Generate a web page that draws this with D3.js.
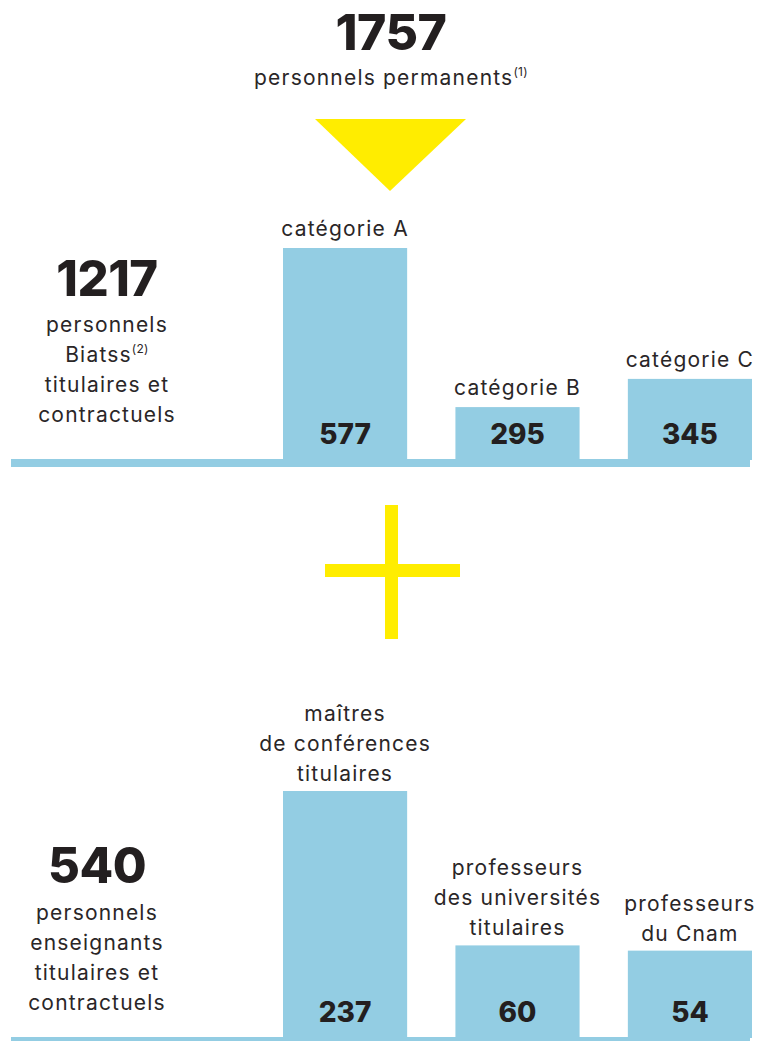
<!DOCTYPE html>
<html><head><meta charset="utf-8">
<script src="https://cdn.jsdelivr.net/npm/d3@7"></script>
<style>
html,body{margin:0;padding:0;background:#fff;}
svg{display:block;}
text{font-family:Inter,"Liberation Sans",sans-serif;fill:#231f20;}
text.reg{letter-spacing:1.2px;fill:#2a2627;}
</style></head><body>
<svg id="chart" width="758" height="1041"></svg>
<script>
// ---- data ----
const totalAll = 1757;
const totalAllLabel = ["personnels permanents", "(1)"];
const totalBiatss = 1217;
const biatssLabel = ["personnels", "Biatss", "titulaires et", "contractuels"];
const biatssNote = "(2)";
const topCategories = ["catégorie A", "catégorie B", "catégorie C"];
const topValues = [577, 295, 345];
const totalEns = 540;
const ensLabel = ["personnels", "enseignants", "titulaires et", "contractuels"];
const bottomCategories = [["maîtres", "de conférences", "titulaires"], ["professeurs", "des universités", "titulaires"], ["professeurs", "du Cnam"]];
const bottomValues = [237, 60, 54];

const BLUE = "#93cde3", YELLOW = "#ffed00";
const svg = d3.select("#chart");

// header
svg.append("text").attr("x", 391).attr("y", 50).attr("text-anchor", "middle")
  .attr("font-size", 50).attr("font-weight", 800).attr("letter-spacing", -0.5).text(totalAll);
const hl = svg.append("text").attr("class", "reg").attr("x", 391).attr("y", 85).attr("text-anchor", "middle")
  .attr("font-size", 21);
hl.append("tspan").text(totalAllLabel[0]);
hl.append("tspan").attr("font-size", 12).attr("dy", -9).style("letter-spacing", "0.3px").text(totalAllLabel[1]);

// triangle
svg.append("path").attr("d", d3.line()([[315,119],[466,119],[390,191]]) + "Z").attr("fill", YELLOW);

// plus
svg.append("rect").attr("x", 385).attr("y", 505).attr("width", 13).attr("height", 134).attr("fill", YELLOW);
svg.append("rect").attr("x", 325).attr("y", 564).attr("width", 135).attr("height", 13).attr("fill", YELLOW);

function drawBlock(cats, vals, yScale, baseY, total, label, labelCx, totalBaseline, lineGap, labelFirst, superIdx, note, catGap) {
  const keys = cats.map((c, i) => i);
  const x = d3.scaleBand().domain(keys).range([283, 752]).paddingInner(0.28).paddingOuter(0);
  const g = svg.append("g");
  // baseline band
  g.append("rect").attr("x", 11).attr("y", baseY).attr("width", 739).attr("height", 8).attr("fill", BLUE);
  g.selectAll("rect.bar").data(vals).join("rect").attr("class", "bar")
    .attr("x", (d, i) => x(i)).attr("width", x.bandwidth())
    .attr("y", d => yScale(d)).attr("height", d => baseY - yScale(d) + 1).attr("fill", BLUE);
  g.selectAll("text.val").data(vals).join("text").attr("class", "val")
    .attr("x", (d, i) => x(i) + x.bandwidth() / 2).attr("y", baseY - 15)
    .attr("text-anchor", "middle").attr("font-size", 28).attr("font-weight", 800).text(d => d);
  vals.forEach((v, i) => {
    const lines = Array.isArray(cats[i]) ? cats[i] : [cats[i]];
    const cx = x(i) + x.bandwidth() / 2;
    const top = yScale(v) - catGap - (lines.length - 1) * 30;
    lines.forEach((l, k) => g.append("text").attr("class", "reg").attr("text-anchor", "middle")
      .attr("font-size", 21).attr("x", cx).attr("y", top + k * 30).text(l));
  });
  // left totals
  g.append("text").attr("x", labelCx).attr("y", totalBaseline).attr("text-anchor", "middle")
    .attr("font-size", 49).attr("font-weight", 800).attr("letter-spacing", -0.5).text(total);
  label.forEach((l, k) => {
    const t = g.append("text").attr("class", "reg").attr("text-anchor", "middle").attr("font-size", 21)
      .attr("x", labelCx).attr("y", labelFirst + k * lineGap);
    t.append("tspan").text(l);
    if (k === superIdx) t.append("tspan").attr("font-size", 12).attr("dy", -9).style("letter-spacing", "0.3px").text(note);
  });
}

const yTop = d3.scaleLinear().domain([203, 577]).range([459, 248]);
drawBlock(topCategories, topValues, yTop, 459, totalBiatss, biatssLabel, 107, 296, 30, 332, 1, biatssNote, 12);

const yBottom = d3.scaleLinear().domain([-45, 237]).range([1037, 791]);
drawBlock(bottomCategories, bottomValues, yBottom, 1037, totalEns, ensLabel, 97, 883, 30, 920, -1, "", 10);
</script>
</body></html>
